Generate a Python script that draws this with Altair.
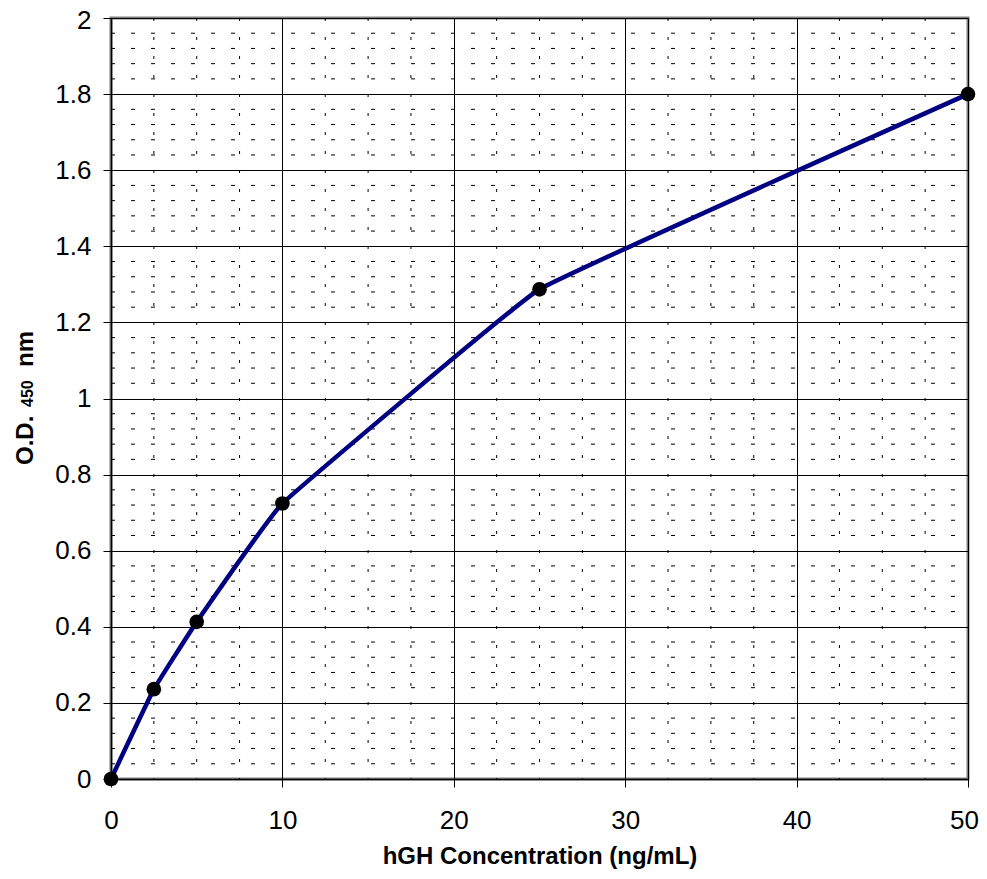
import altair as alt
import pandas as pd

# Data
conc = [0, 2.5, 5, 10, 25, 50]
od = [0.0, 0.236, 0.413, 0.724, 1.287, 1.8]

x_ticks = [0, 10, 20, 30, 40, 50]
y_ticks = [0, 0.2, 0.4, 0.6, 0.8, 1.0, 1.2, 1.4, 1.6, 1.8, 2.0]
minor_x = [2.5, 5, 7.5, 12.5, 15, 17.5, 22.5, 25, 27.5, 32.5, 35, 37.5,
           42.5, 45, 47.5]
minor_y = [0.04, 0.08, 0.12, 0.16, 0.24, 0.28, 0.32, 0.36, 0.44, 0.48, 0.52,
           0.56, 0.64, 0.68, 0.72, 0.76, 0.84, 0.88, 0.92, 0.96, 1.04, 1.08,
           1.12, 1.16, 1.24, 1.28, 1.32, 1.36, 1.44, 1.48, 1.52, 1.56, 1.64,
           1.68, 1.72, 1.76, 1.84, 1.88, 1.92, 1.96]

x_title = "hGH Concentration (ng/mL)"
y_title_parts = ["O.D.", "450", "nm"]

W, H = 857, 761
FONT = "Liberation Sans"

df = pd.DataFrame({"conc": conc, "od": od})
xscale = alt.Scale(domain=[0, 50], nice=False, zero=False)
yscale = alt.Scale(domain=[0, 2], nice=False, zero=False)

xaxis = alt.Axis(
    values=x_ticks, title=x_title, grid=True, gridColor="black", gridWidth=1,
    domainColor="black", domainWidth=1.5, tickColor="black", tickSize=8,
    labelFont=FONT, labelFontSize=26, labelColor="black", labelPadding=20,
    labelFlush=False, labelOverlap=False,
    labelOffset={"condition": {"test": "datum.value === 50", "value": -4}, "value": 0},
    titleFont=FONT, titleFontSize=24, titleFontWeight="bold", titleColor="black",
    titleBaseline="alphabetic", titleY=84,
)
yaxis = alt.Axis(
    values=y_ticks, title=None, grid=True, gridColor="black", gridWidth=1,
    domainColor="black", domainWidth=1.5, tickColor="black", tickSize=8,
    labelFont=FONT, labelFontSize=26, labelColor="black", labelPadding=12,
    labelFlush=False, labelOverlap=False, format=".1~f",
    labelOffset={"condition": {"test": "datum.value === 2", "value": 2}, "value": 0},
)

vminor = alt.Chart(pd.DataFrame({"x": minor_x})).mark_rule(
    color="black", strokeWidth=1, strokeDash=[3, 16]
).encode(
    x=alt.X("x:Q", scale=xscale, axis=xaxis),
    y=alt.value(0), y2=alt.value(H),
)

hminor = alt.Chart(pd.DataFrame({"y": minor_y})).mark_rule(
    color="black", strokeWidth=1, strokeDash=[4, 16]
).encode(
    y=alt.Y("y:Q", scale=yscale, axis=yaxis),
    x=alt.value(0), x2=alt.value(W),
)

line = alt.Chart(df).mark_line(
    color="#000080", strokeWidth=4.5, interpolate="cardinal", tension=0.8
).encode(
    x=alt.X("conc:Q", scale=xscale, axis=xaxis),
    y=alt.Y("od:Q", scale=yscale, axis=yaxis),
)

points = alt.Chart(df).mark_circle(
    color="black", size=215, opacity=1
).encode(
    x=alt.X("conc:Q", scale=xscale, axis=xaxis),
    y=alt.Y("od:Q", scale=yscale, axis=yaxis),
)

base_txt = dict(angle=270, align="left", baseline="alphabetic",
                font=FONT, fontWeight="bold", color="black")
t1 = alt.Chart(pd.DataFrame({"t": [y_title_parts[0]]})).mark_text(
    fontSize=24, **base_txt
).encode(text="t:N", x=alt.value(-78), y=alt.value(447))
t2 = alt.Chart(pd.DataFrame({"t": [y_title_parts[1]]})).mark_text(
    fontSize=16, **base_txt
).encode(text="t:N", x=alt.value(-78), y=alt.value(389))
t3 = alt.Chart(pd.DataFrame({"t": [y_title_parts[2]]})).mark_text(
    fontSize=24, **base_txt
).encode(text="t:N", x=alt.value(-78), y=alt.value(349))

chart = alt.layer(vminor, hminor, line, points, t1, t2, t3).properties(
    width=W, height=H,
    autosize=alt.AutoSizeParams(type="none"),
    padding={"left": 103, "top": 10, "right": 11, "bottom": 92},
    background="white",
).configure_view(
    stroke="#808080", strokeWidth=3
)

chart.save("out.html", embed_options={"renderer": "svg", "actions": False})
